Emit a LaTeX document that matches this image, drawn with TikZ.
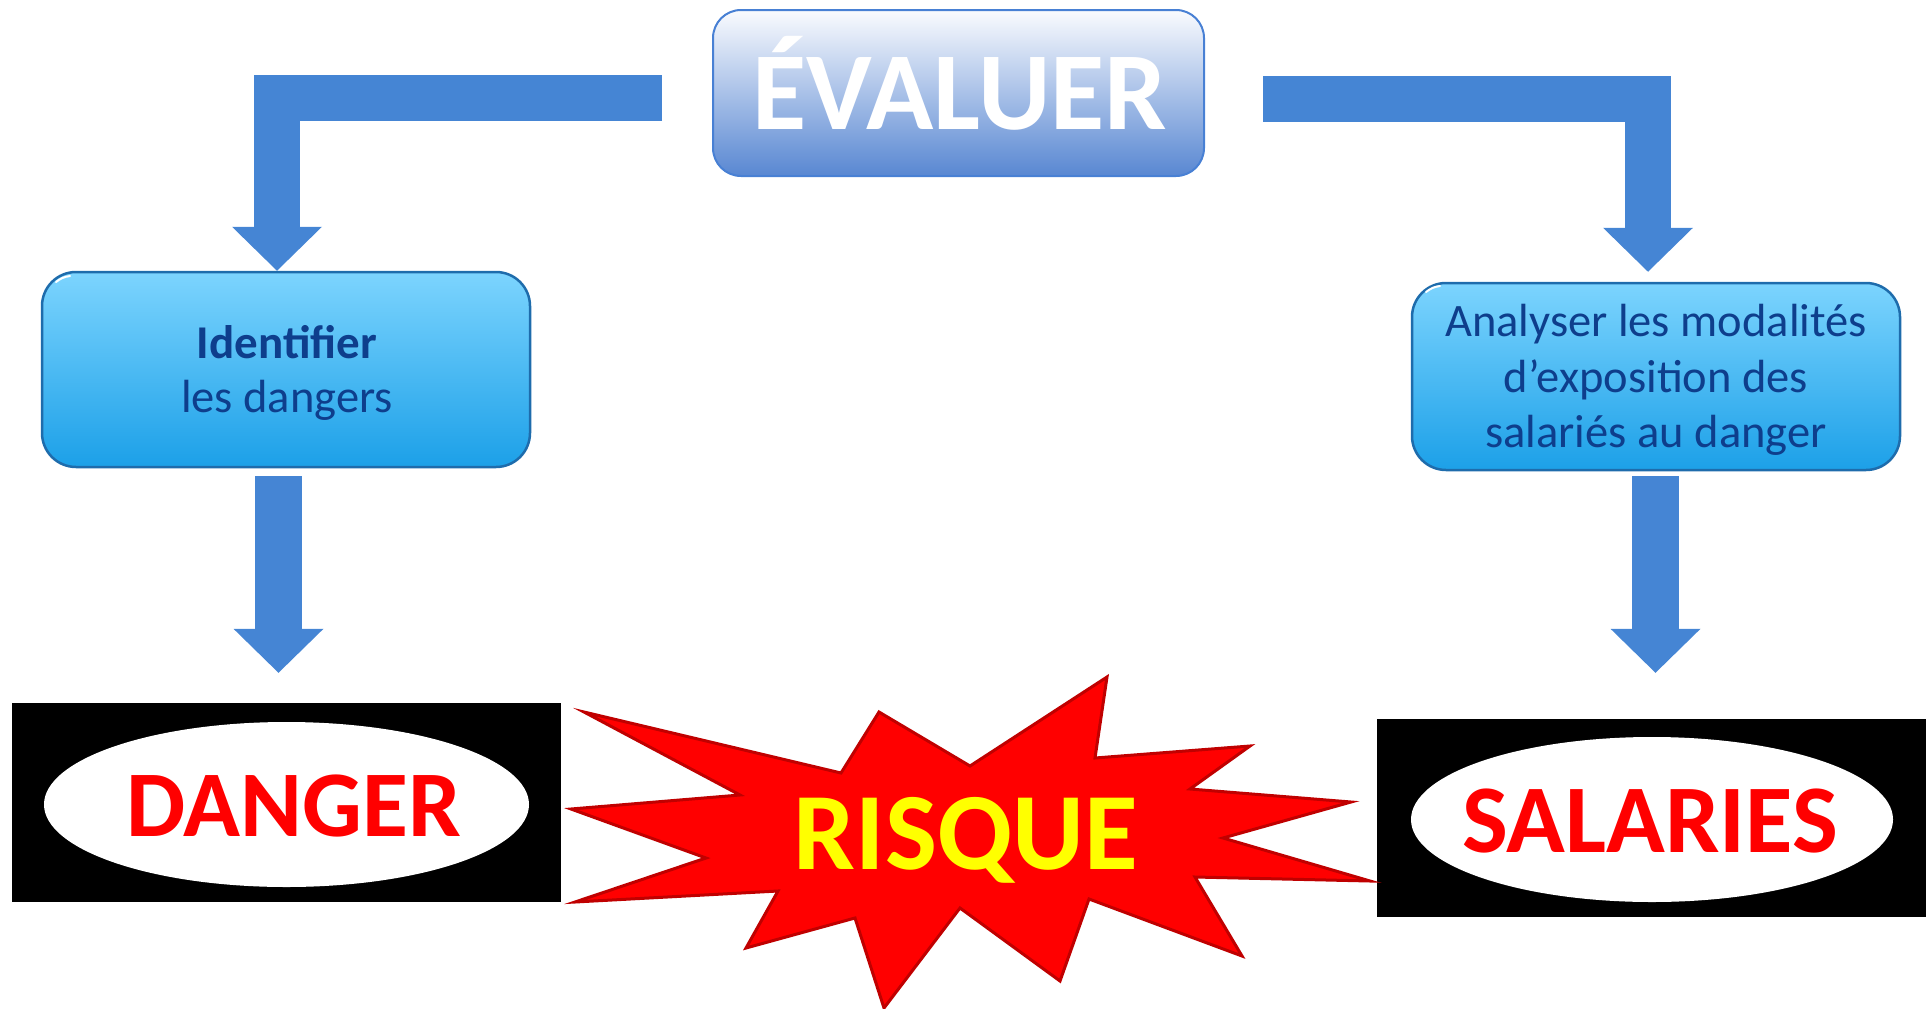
\documentclass[tikz,border=0pt]{standalone}
\usepackage{fontspec}
\setmainfont{Carlito}
\usetikzlibrary{arrows.meta,calc}
\definecolor{arrowblue}{RGB}{69,133,212}
\definecolor{evaltop}{RGB}{250,251,254}
\definecolor{evalbot}{RGB}{88,135,210}
\definecolor{evalborder}{RGB}{72,128,212}
\definecolor{boxtop}{RGB}{124,212,254}
\definecolor{boxbot}{RGB}{28,160,232}
\definecolor{boxborder}{RGB}{30,108,172}
\definecolor{navy}{RGB}{14,62,140}
\definecolor{burstred}{RGB}{255,0,0}
\definecolor{burstedge}{RGB}{192,0,0}
\definecolor{yel}{RGB}{255,255,0}
\begin{document}
\begin{tikzpicture}[x=1pt,y=-1pt,
  bigarrow/.style={draw=arrowblue, line width=46pt, line join=miter,
    -{Triangle[width=90pt,length=44pt,line width=0pt]}},
  evalbox/.style={draw=evalborder, line width=2pt, top color=evaltop, bottom color=evalbot,
    rounded corners=28pt, minimum width=491pt, minimum height=166pt, inner sep=0pt},
  bluebox/.style={draw=boxborder, line width=2.5pt, top color=boxtop, bottom color=boxbot,
    rounded corners=34pt, minimum width=488pt, inner sep=0pt},
  blackbox/.style={fill=black, draw=none, minimum width=549pt, inner sep=0pt},
  boxtext/.style={text=navy, anchor=base, inner sep=0pt, font=\fontsize{46.5pt}{46.5pt}\selectfont},
  bigtext/.style={anchor=base, inner sep=0pt, font=\bfseries\fontsize{#1}{#1}\selectfont}
]
\useasboundingbox (0,0) rectangle (1930,1009);

% top box
\node[evalbox] (eval) at (958.5,93) {};
\node[bigtext=111pt, text=white] (evaltxt) at (960,129) {ÉVALUER};

% blue boxes
\node[bluebox, minimum height=195pt] (ident) at (286,369.5) {};
\node[bluebox, minimum height=187pt] (anal) at (1656,376.5) {};
\draw[white, line width=2pt, line cap=round] (56,282) to[bend left=15] (70,276);
\draw[white, line width=2pt, line cap=round] (1426,292) to[bend left=15] (1440,286);
\node[boxtext, font=\bfseries\fontsize{47pt}{47pt}\selectfont] (identA) at (287,358) {Identifier};
\node[boxtext] (identB) at (287,412) {les dangers};
\node[boxtext] (analA) at (1656,336) {Analyser les modalités};
\node[boxtext] (analB) at (1656,392) {d’exposition des};
\node[boxtext] (analC) at (1656,447) {salariés au danger};

% black boxes with ellipses
\node[blackbox, minimum height=199pt] (danger) at (286.5,802.5) {};
\node[blackbox, minimum height=198pt] (salaries) at (1651.5,818) {};
\fill[white] (286.5,804.5) ellipse [x radius=242.5, y radius=82.5];
\fill[white] (1652,819.5) ellipse [x radius=241, y radius=82.5];
\node[bigtext=94pt, text=red] (dangertxt) at (294,836) {DANGER};
\node[bigtext=97pt, text=red] (salariestxt) at (1650,852) {SALARIES};

% burst
\draw[fill=burstred, draw=burstedge, line width=3pt, line join=miter]
  (584,712) -- (841,773) -- (879,712) -- (970,766) -- (1107,677) -- (1095,758)
  -- (1250,746) -- (1190,789) -- (1351,802) -- (1223,838) -- (1370,881)
  -- (1195,877) -- (1242,956) -- (1089,899) -- (1060,981) -- (960,908)
  -- (884,1008) -- (855,918) -- (746,948) -- (778,891) -- (575,902)
  -- (706,858) -- (571,809) -- (740,795) -- cycle;
\node[bigtext=110pt, text=yel] (risque) at (966,869) {RISQUE};

% arrows
\coordinate (lstart) at (662,98);
\coordinate (rstart) at (1263,98.5);
\draw[bigarrow] (lstart) -| ([xshift=-9pt]ident.north);
\draw[bigarrow] (rstart) -| ([xshift=-8pt,yshift=10pt]anal.north);
\draw[bigarrow, line width=47pt] ([xshift=-7.5pt,yshift=-8pt]ident.south) -- ([xshift=-8pt,yshift=30pt]danger.north);
\draw[bigarrow, line width=47pt] ([xshift=-0.5pt,yshift=-5pt]anal.south) -- ([xshift=4pt,yshift=46pt]salaries.north);
\end{tikzpicture}
\end{document}
